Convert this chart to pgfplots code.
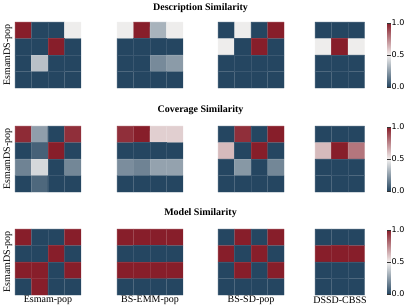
\documentclass[border=0pt]{standalone}
\usepackage{fontspec}
\setmainfont{Liberation Serif}
\newfontfamily\dejavu{DejaVu Sans}
\usepackage{pgfplots}
\pgfplotsset{compat=1.18}
\pgfplotsset{
  colormap={simcmap}{rgb255(0)=(37,70,97) rgb255(1)=(242,240,239) rgb255(2)=(135,30,42)},
  hm/.style={scale only axis, height=66pt, y dir=reverse, xtick=\empty, ytick=\empty,
    axis line style={draw=none}, point meta min=0, point meta max=1, colormap name=simcmap,
    anchor=north west, enlargelimits=false, ymin=-0.5, ymax=3.5, xmin=-0.5, clip=false},
  hmfour/.style={hm, width=66pt, xmax=3.5},
  hmthree/.style={hm, width=49.5pt, xmax=2.5},
  cb/.style={colorbar, colorbar style={width=3.5pt, height=64pt, at={(parent axis.east)}, anchor=west, xshift=14pt,
    ytick={0,0.5,1}, yticklabels={0.0,0.5,1.0}, yticklabel style={font=\dejavu\fontsize{8}{9}\selectfont, inner sep=1pt},
    axis line style={draw=none}, major tick length=2pt, tick style={black!80, line width=0.4pt}}},
}
\newcommand\gridfour{\draw[white, opacity=0.1, line width=0.5pt]
  (axis cs:0.5,-0.5)--(axis cs:0.5,3.5) (axis cs:1.5,-0.5)--(axis cs:1.5,3.5) (axis cs:2.5,-0.5)--(axis cs:2.5,3.5)
  (axis cs:-0.5,0.5)--(axis cs:3.5,0.5) (axis cs:-0.5,1.5)--(axis cs:3.5,1.5) (axis cs:-0.5,2.5)--(axis cs:3.5,2.5)
  (axis cs:-0.5,-0.5) rectangle (axis cs:3.5,3.5);}
\newcommand\gridthree{\draw[white, opacity=0.1, line width=0.5pt]
  (axis cs:0.5,-0.5)--(axis cs:0.5,3.5) (axis cs:1.5,-0.5)--(axis cs:1.5,3.5)
  (axis cs:-0.5,0.5)--(axis cs:2.5,0.5) (axis cs:-0.5,1.5)--(axis cs:2.5,1.5) (axis cs:-0.5,2.5)--(axis cs:2.5,2.5)
  (axis cs:-0.5,-0.5) rectangle (axis cs:2.5,3.5);}
\begin{document}
\begin{tikzpicture}
\path[use as bounding box] (0,0) rectangle (407pt,-306pt);
% ---------------- Description Similarity ----------------
\begin{axis}[hmfour, at={(15pt,-22pt)}]
\addplot[matrix plot*, mesh/cols=4, point meta=explicit] table[meta=c]{
x y c
0 0 1
1 0 0
2 0 0
3 0 0.49
0 1 0
1 1 0
2 1 1
3 1 0
0 2 0
1 2 0.36
2 2 0
3 2 0
0 3 0
1 3 0
2 3 0
3 3 0
};
\gridfour
\end{axis}
\begin{axis}[hmfour, at={(117pt,-22pt)}]
\addplot[matrix plot*, mesh/cols=4, point meta=explicit] table[meta=c]{
x y c
0 0 0.49
1 0 1
2 0 0.32
3 0 0.49
0 1 0
1 1 0
2 1 0
3 1 0
0 2 0
1 2 0
2 2 0.2
3 2 0.25
0 3 0
1 3 0
2 3 0
3 3 0
};
\gridfour
\end{axis}
\begin{axis}[hmfour, at={(218pt,-22pt)}]
\addplot[matrix plot*, mesh/cols=4, point meta=explicit] table[meta=c]{
x y c
0 0 0
1 0 0.49
2 0 0
3 0 1
0 1 0.49
1 1 0
2 1 1
3 1 0
0 2 0
1 2 0
2 2 0
3 2 0
0 3 0
1 3 0
2 3 0
3 3 0
};
\gridfour
\end{axis}
\begin{axis}[hmthree, at={(315pt,-22pt)}, cb]
\addplot[matrix plot*, mesh/cols=3, point meta=explicit] table[meta=c]{
x y c
0 0 0
1 0 0
2 0 0
0 1 0.49
1 1 1
2 1 0.49
0 2 0
1 2 0
2 2 0
0 3 0
1 3 0
2 3 0
};
\gridthree
\end{axis}
% ---------------- Coverage Similarity ----------------
\begin{axis}[hmfour, at={(15pt,-126pt)}]
\addplot[matrix plot*, mesh/cols=4, point meta=explicit] table[meta=c]{
x y c
0 0 0.97
1 0 0.26
2 0 0
3 0 0.96
0 1 0
1 1 0.08
2 1 1
3 1 0
0 2 0.18
1 2 0.43
2 2 0
3 2 0.19
0 3 0
1 3 0.1
2 3 0
3 3 0
};
\gridfour
\end{axis}
\begin{axis}[hmfour, at={(117pt,-126pt)}]
\addplot[matrix plot*, mesh/cols=4, point meta=explicit] table[meta=c]{
x y c
0 0 0.96
1 0 1
2 0 0.58
3 0 0.58
0 1 0
1 1 0
2 1 0
3 1 0
0 2 0.21
1 2 0.18
2 2 0.27
3 2 0.27
0 3 0
1 3 0
2 3 0
3 3 0
};
\gridfour
\end{axis}
\begin{axis}[hmfour, at={(218pt,-126pt)}]
\addplot[matrix plot*, mesh/cols=4, point meta=explicit] table[meta=c]{
x y c
0 0 0
1 0 0.96
2 0 0
3 0 1
0 1 0.63
1 1 0
2 1 1
3 1 0
0 2 0
1 2 0.24
2 2 0
3 2 0.19
0 3 0
1 3 0
2 3 0
3 3 0
};
\gridfour
\end{axis}
\begin{axis}[hmthree, at={(315pt,-126pt)}, cb]
\addplot[matrix plot*, mesh/cols=3, point meta=explicit] table[meta=c]{
x y c
0 0 0
1 0 0
2 0 0
0 1 0.63
1 1 1
2 1 0.79
0 2 0
1 2 0
2 2 0
0 3 0
1 3 0
2 3 0
};
\gridthree
\end{axis}
% ---------------- Model Similarity ----------------
\begin{axis}[hmfour, at={(15pt,-229pt)}]
\addplot[matrix plot*, mesh/cols=4, point meta=explicit] table[meta=c]{
x y c
0 0 1
1 0 0
2 0 0
3 0 1
0 1 0
1 1 0
2 1 1
3 1 0
0 2 1
1 2 1
2 2 0
3 2 1
0 3 0
1 3 1
2 3 0
3 3 0
};
\gridfour
\end{axis}
\begin{axis}[hmfour, at={(117pt,-229pt)}]
\addplot[matrix plot*, mesh/cols=4, point meta=explicit] table[meta=c]{
x y c
0 0 1
1 0 1
2 0 1
3 0 1
0 1 0
1 1 0
2 1 0
3 1 0
0 2 1
1 2 1
2 2 1
3 2 1
0 3 0
1 3 0
2 3 0
3 3 0
};
\gridfour
\end{axis}
\begin{axis}[hmfour, at={(218pt,-229pt)}]
\addplot[matrix plot*, mesh/cols=4, point meta=explicit] table[meta=c]{
x y c
0 0 0
1 0 1
2 0 0
3 0 1
0 1 1
1 1 0
2 1 1
3 1 0
0 2 0
1 2 1
2 2 0
3 2 1
0 3 0
1 3 0
2 3 0
3 3 0
};
\gridfour
\end{axis}
\begin{axis}[hmthree, at={(315pt,-229pt)}, cb]
\addplot[matrix plot*, mesh/cols=3, point meta=explicit] table[meta=c]{
x y c
0 0 0
1 0 0
2 0 0
0 1 1
1 1 1
2 1 1
0 2 0
1 2 0
2 2 0
0 3 0
1 3 0
2 3 0
};
\gridthree
\end{axis}
% ---------------- Texts ----------------
\node[font=\bfseries\fontsize{10}{12}\selectfont] at (200.5pt,-8.5pt) {Description Similarity};
\node[font=\bfseries\fontsize{10}{12}\selectfont] at (200.5pt,-110pt) {Coverage Similarity};
\node[font=\bfseries\fontsize{10}{12}\selectfont] at (200.5pt,-213pt) {Model Similarity};
\node[rotate=90, font=\fontsize{10}{12}\selectfont] at (8pt,-55pt) {EsmamDS-pop};
\node[rotate=90, font=\fontsize{10}{12}\selectfont] at (8pt,-159pt) {EsmamDS-pop};
\node[rotate=90, font=\fontsize{10}{12}\selectfont] at (8pt,-262pt) {EsmamDS-pop};
\node[font=\fontsize{10}{12}\selectfont] at (48pt,-300pt) {Esmam-pop};
\node[font=\fontsize{10}{12}\selectfont] at (150pt,-300pt) {BS-EMM-pop};
\node[font=\fontsize{10}{12}\selectfont] at (251pt,-300pt) {BS-SD-pop};
\node[font=\fontsize{10}{12}\selectfont] at (340pt,-300pt) {DSSD-CBSS};
\end{tikzpicture}
\end{document}
